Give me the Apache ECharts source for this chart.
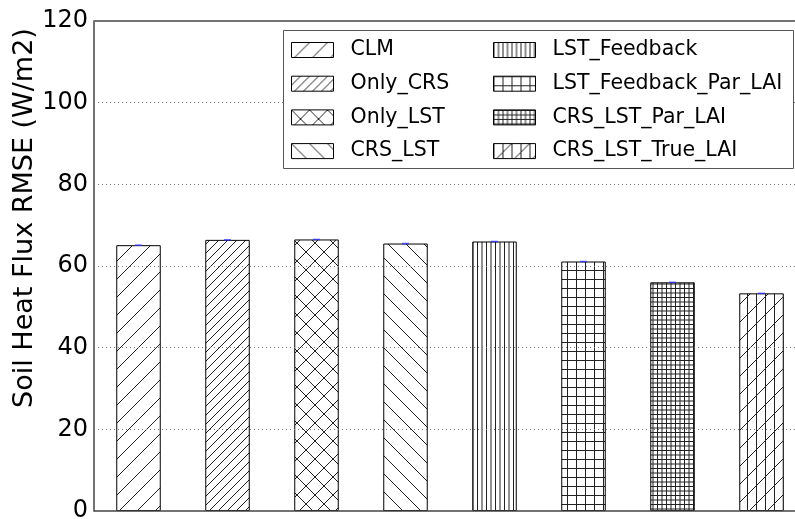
<!DOCTYPE html>
<html>
<head>
<meta charset="utf-8">
<script src="https://cdn.jsdelivr.net/npm/echarts@6/dist/echarts.min.js"></script>
<style>
  html, body { margin: 0; padding: 0; background: #fff; }
  #chart { width: 795px; height: 519px; }
</style>
</head>
<body>
<div id="chart"></div>
<script>
// Experiment names (one bar each)
const categories = ['CLM', 'Only_CRS', 'Only_LST', 'CRS_LST',
  'LST_Feedback', 'LST_Feedback_Par_LAI', 'CRS_LST_Par_LAI', 'CRS_LST_True_LAI'];
// Soil heat flux RMSE (W/m2) per experiment
const rmseValues = [65.1, 66.4, 66.5, 65.5, 66.0, 61.1, 56.0, 53.3];
// Y axis ticks
const yTicks = [0, 20, 40, 60, 80, 100, 120];
// Hatch style per experiment
const hatchStyles = ['/', '//', 'x', '\\', '||||', '++', '++++', '/|'];

const FONT = 'DejaVu Sans';
const HATCH = '#222';

// Build a repeating hatch tile on a small canvas
function makeTile(size, draw) {
  const c = document.createElement('canvas');
  c.width = size; c.height = size;
  const g = c.getContext('2d');
  g.fillStyle = '#fff';
  g.fillRect(0, 0, size, size);
  g.strokeStyle = HATCH;
  g.lineWidth = 1;
  g.beginPath();
  draw(g, size);
  g.stroke();
  return c;
}
function fwd(g, s) { // '/'
  g.moveTo(-1, s + 1); g.lineTo(s + 1, -1);
  g.moveTo(-1, 1); g.lineTo(1, -1);
  g.moveTo(s - 1, s + 1); g.lineTo(s + 1, s - 1);
}
function back(g, s) { // '\'
  g.moveTo(-1, -1); g.lineTo(s + 1, s + 1);
  g.moveTo(s - 1, -1); g.lineTo(s + 1, 1);
  g.moveTo(-1, s - 1); g.lineTo(1, s + 1);
}
function vert(g, s, xs) { xs.forEach(x => { g.moveTo(x, 0); g.lineTo(x, s); }); }
function horz(g, s, ys) { ys.forEach(y => { g.moveTo(0, y); g.lineTo(s, y); }); }

function hatchPattern(h) {
  let tile;
  switch (h) {
    case '/': tile = makeTile(18, fwd); break;
    case '//': tile = makeTile(9, fwd); break;
    case 'x': tile = makeTile(18, (g, s) => { fwd(g, s); back(g, s); }); break;
    case '\\': tile = makeTile(18, back); break;
    case '||||': tile = makeTile(9, (g, s) => vert(g, s, [0.5, 5])); break;
    case '++': tile = makeTile(9, (g, s) => { vert(g, s, [0.5]); horz(g, s, [0.5]); }); break;
    case '++++': tile = makeTile(9, (g, s) => { vert(g, s, [0.5, 5]); horz(g, s, [0.5, 5]); }); break;
    case '/|': tile = makeTile(18, (g, s) => { fwd(g, s); vert(g, s, [0.5, 9.5]); }); break;
  }
  return { image: tile, repeat: 'repeat' };
}

const barSeries = categories.map((name, i) => ({
  name: name,
  type: 'bar',
  stack: 'all',
  barWidth: 44.5,
  z: 1,
  data: rmseValues.map((v, j) => (j === i ? v : '-')),
  itemStyle: {
    color: hatchPattern(hatchStyles[i]),
    borderColor: '#000',
    borderWidth: 1
  }
}));

// Small blue caps at the top of each bar
const capSeries = {
  type: 'scatter',
  name: 'cap',
  symbol: 'rect',
  symbolSize: [7, 1.5],
  z: 6,
  itemStyle: { color: '#3030ff' },
  data: rmseValues
};

const legendCommon = {
  orient: 'vertical',
  top: 39.5,
  padding: 0,
  itemWidth: 42,
  itemHeight: 15,
  itemGap: 12.7,
  selectedMode: false,
  icon: 'rect',
  z: 20,
  itemStyle: { borderColor: '#000', borderWidth: 1 },
  textStyle: { fontFamily: FONT, fontSize: 20.5, color: '#000', lineHeight: 20, padding: [0, 0, 0, 12] }
};

const chart = echarts.init(document.getElementById('chart'), null, { renderer: 'canvas' });
chart.setOption({
  animation: false,
  backgroundColor: '#fff',
  grid: {
    left: 94, top: 21, right: -11, bottom: 8,
    outerBoundsMode: 'none',
    containLabel: false,
    show: true, borderColor: '#444', borderWidth: 1.5, z: 5
  },
  xAxis: {
    type: 'category',
    data: categories,
    axisLabel: { show: false },
    axisTick: { show: false },
    axisLine: { show: false },
    splitLine: { show: false }
  },
  yAxis: {
    type: 'value',
    min: yTicks[0],
    max: yTicks[yTicks.length - 1],
    interval: 20,
    z: 5,
    axisLine: { show: false },
    axisTick: { show: false },
    axisLabel: { fontFamily: FONT, fontSize: 24, color: '#000', margin: 6 },
    splitLine: { lineStyle: { color: '#777', type: [1, 3], width: 1 } }
  },
  legend: [
    Object.assign({}, legendCommon, { left: 291, data: categories.slice(0, 4) }),
    Object.assign({}, legendCommon, { left: 493, data: categories.slice(4) })
  ],
  graphic: [
    {
      type: 'rect', z: 15,
      shape: { x: 283.5, y: 30.5, width: 510, height: 138 },
      style: { fill: '#fff', stroke: '#555', lineWidth: 1 }
    },
    {
      type: 'text', z: 15,
      x: 25, y: 218, rotation: Math.PI / 2,
      style: {
        text: 'Soil Heat Flux RMSE (W/m2)',
        fontFamily: FONT, fontSize: 27, fill: '#000',
        align: 'center', verticalAlign: 'middle'
      }
    }
  ],
  series: barSeries.concat([capSeries])
});
</script>
</body>
</html>
